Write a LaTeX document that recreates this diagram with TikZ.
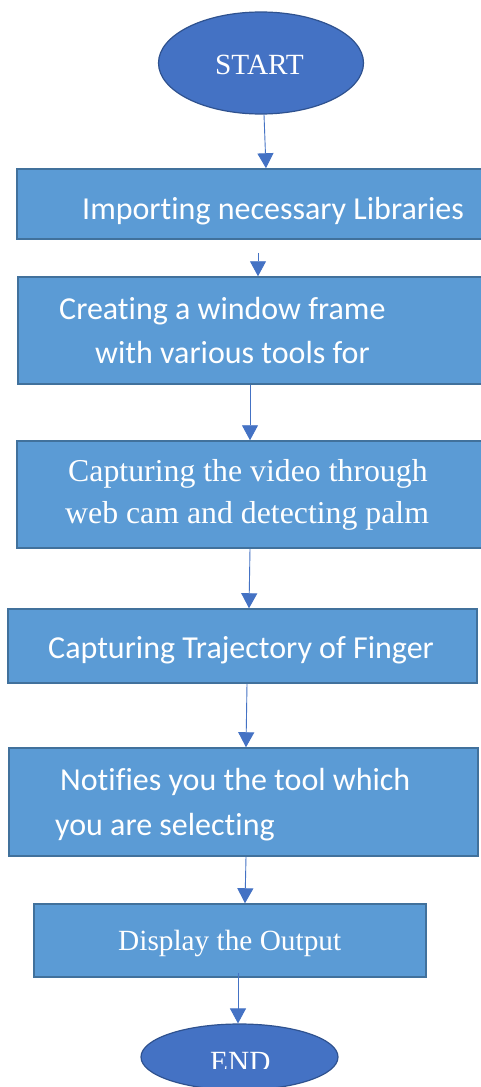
\documentclass[tikz,border=0pt]{standalone}
\usepackage{fontspec}
\setmainfont{Liberation Serif}
\newfontfamily\calibri[Ligatures=NoCommon]{Carlito}
\usetikzlibrary{arrows.meta,shapes.geometric}
\usepackage{xcolor}
\definecolor{termblue}{HTML}{4472C4}
\definecolor{termline}{HTML}{2F528F}
\definecolor{boxblue}{HTML}{5B9BD5}
\definecolor{boxline}{HTML}{41719C}

\begin{document}
\begin{tikzpicture}[x=1pt,y=-1pt,
        terminal/.style={ellipse,draw=termline,fill=termblue,line width=1.2pt,inner sep=0pt},
        procbox/.style={rectangle,draw=boxline,fill=boxblue,line width=1.5pt,inner sep=0pt},
        flow/.style={-{Triangle[width=16pt,length=15pt]},draw=termblue,line width=0.9pt},
        sanstext/.style={anchor=base west,inner sep=0pt,text=white,font=\calibri\fontsize{32}{44}\selectfont},
        seriftext/.style={anchor=base west,inner sep=0pt,text=white,font=\fontsize{29.3}{36}\selectfont}]
        \useasboundingbox[fill=white] (0,0) rectangle (481,1087);
        % shapes
        \node[terminal,minimum width=205pt,minimum height=102pt] (start) at (261,63) {};
        \node[procbox,minimum width=468pt,minimum height=70pt] (import) at (251,204) {};
        \node[procbox,minimum width=467pt,minimum height=107pt] (window) at (251.5,330.5) {};
        \node[procbox,minimum width=468pt,minimum height=107pt] (capture) at (251,494.5) {};
        \node[procbox,minimum width=469pt,minimum height=74pt] (trajectory) at (242.5,646) {};
        \node[procbox,minimum width=469pt,minimum height=108pt] (notify) at (243.5,802) {};
        \node[procbox,minimum width=392pt,minimum height=73pt] (display) at (230,940.5) {};
        \node[terminal,minimum width=197pt,minimum height=66pt] (stop) at (239.5,1057) {};
        % texts
        \node[seriftext] (starttext) at (215,74) {START};
        \node[sanstext] (importtext) at (82,219) {Importing necessary Libraries};
        \node[sanstext] (windowtexta) at (59,319) {Creating a window frame};
        \node[sanstext] (windowtextb) at (95,363) {with various tools for};
        \node[seriftext,font=\fontsize{31.8}{42}\selectfont] (capturetexta) at (68,481) {Capturing the video through};
        \node[seriftext,font=\fontsize{31.8}{42}\selectfont] (capturetextb) at (65,523) {web cam and detecting palm};
        \node[sanstext] (trajectorytext) at (48,658) {Capturing Trajectory of Finger};
        \node[sanstext] (notifytexta) at (60,790) {Notifies you the tool which};
        \node[sanstext] (notifytextb) at (55,835) {you are selecting};
        \node[seriftext] (displaytext) at (118,950) {Display the Output};
        \begin{scope}
            \clip (141,1024) rectangle (338,1068);
            \node[seriftext] (stoptext) at (210,1071) {END};
        \end{scope}
        % arrows
        \draw[flow] ([xshift=3pt]start.south) -- ([xshift=15pt]import.north);
        \draw[flow] ([xshift=7pt,yshift=-13pt]import.south) -- ([xshift=6.5pt]window.north);
        \draw[flow] ([xshift=-1.5pt]window.south) -- ([xshift=-1pt]capture.north);
        \draw[flow] ([xshift=-1pt]capture.south) -- ([xshift=6.5pt]trajectory.north);
        \draw[flow] ([xshift=4.5pt]trajectory.south) -- ([xshift=2.5pt]notify.north);
        \draw[flow] ([xshift=2.5pt]notify.south) -- ([xshift=15pt]display.north);
        \draw[flow] ([xshift=8pt,yshift=5pt]display.south) -- ([xshift=-1.5pt]stop.north);
    \end{tikzpicture}
\end{document}
